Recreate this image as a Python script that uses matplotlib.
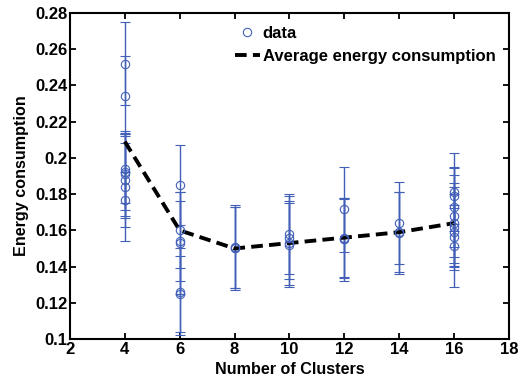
import numpy as np
import matplotlib.pyplot as plt

plt.rcParams['font.family'] = ['Liberation Sans', 'DejaVu Sans']
plt.rcParams['font.weight'] = 'bold'

# individual runs per number of clusters: (value, error)
x4 = [0.252, 0.234, 0.194, 0.192, 0.191, 0.188, 0.184, 0.177]
e4 = [0.023, 0.022, 0.019, 0.021, 0.024, 0.020, 0.030, 0.015]
x6 = [0.185, 0.160, 0.154, 0.153, 0.126, 0.125]
e6 = [0.022, 0.021, 0.022, 0.028, 0.024, 0.021]
x8 = [0.150, 0.1505, 0.151]
e8 = [0.023, 0.0225, 0.023]
x10 = [0.158, 0.156, 0.153, 0.152]
e10 = [0.022, 0.023, 0.023, 0.023]
x12 = [0.1716, 0.156, 0.155, 0.1555]
e12 = [0.0235, 0.022, 0.023, 0.022]
x14 = [0.164, 0.159, 0.1585]
e14 = [0.0225, 0.022, 0.0225]
x16 = [0.181, 0.179, 0.173, 0.168, 0.164, 0.162, 0.159, 0.1565, 0.1515]
e16 = [0.0215, 0.0155, 0.022, 0.0228, 0.022, 0.022, 0.021, 0.016, 0.0226]

clusters = [4, 6, 8, 10, 12, 14, 16]
values = [x4, x6, x8, x10, x12, x14, x16]
errors = [e4, e6, e8, e10, e12, e14, e16]
avg = [0.209, 0.160, 0.150, 0.153, 0.156, 0.159, 0.164]

blue = '#4260b8'

fig = plt.figure(figsize=(5.22, 3.81), dpi=100)
ax = fig.add_axes([0.134, 0.110, 0.841, 0.856])

xs, ys, es = [], [], []
for c, v, e in zip(clusters, values, errors):
    xs += [c] * len(v)
    ys += v
    es += e

ax.errorbar(xs, ys, yerr=es, fmt='o', mfc='none', mec=blue, ms=6,
            ecolor=blue, elinewidth=1, capsize=3.5, mew=0.8)
ln, = ax.plot(clusters, avg, '--', color='black', lw=2.8, dashes=(3, 1.6))
# legend entry for the data: marker only, as in the original figure
mk, = ax.plot([], [], 'o', mfc='none', mec=blue, ms=6, mew=0.8)

ax.set_xlim(2, 18)
ax.set_ylim(0.1, 0.28)
ax.set_xticks(range(2, 19, 2))
ax.set_yticks(np.arange(0.1, 0.2801, 0.02))
ax.set_yticklabels(['0.1', '0.12', '0.14', '0.16', '0.18', '0.2',
                    '0.22', '0.24', '0.26', '0.28'])
ax.tick_params(direction='in', top=True, right=True, labelsize=12,
               width=1.3, length=4, pad=2)
for s in ax.spines.values():
    s.set_linewidth(1.5)
ax.set_xlabel('Number of Clusters', fontsize=11.6, fontweight='bold', labelpad=4)
ax.set_ylabel('Energy consumption', fontsize=11.6, fontweight='bold', labelpad=4)
ax.legend([mk, ln], ['data', 'Average energy consumption'], loc='upper right',
          frameon=False, fontsize=12, handlelength=1.5, handletextpad=0.2,
          borderaxespad=0.4, labelspacing=0.45)

fig.savefig('out.png', dpi=100)
